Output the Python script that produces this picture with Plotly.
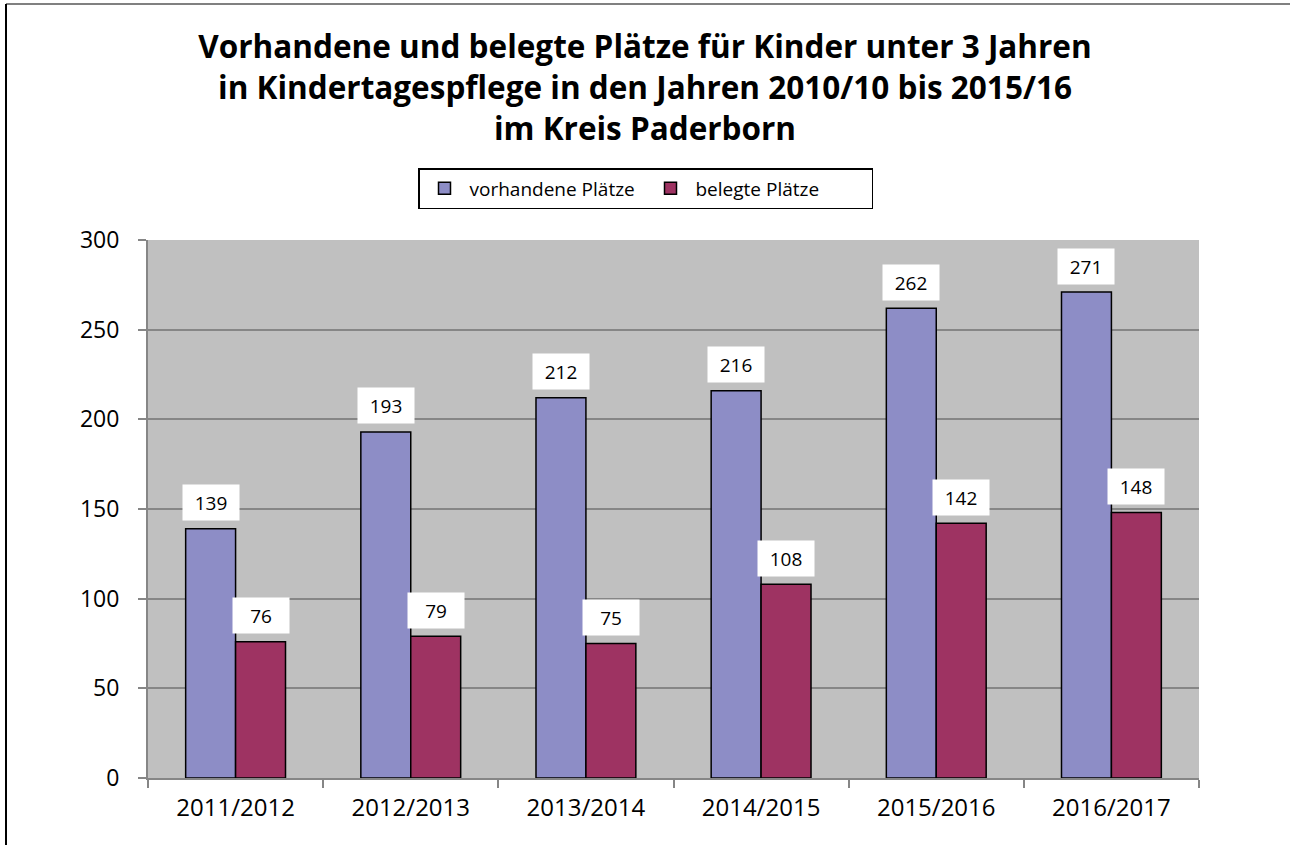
import plotly.graph_objects as go

categories = ["2011/2012", "2012/2013", "2013/2014", "2014/2015", "2015/2016", "2016/2017"]
vorhandene = [139, 193, 212, 216, 262, 271]
belegte = [76, 79, 75, 108, 142, 148]
series_names = ["vorhandene Plätze", "belegte Plätze"]
title_lines = [
    "Vorhandene und belegte Plätze für Kinder unter 3 Jahren",
    "in Kindertagespflege in den Jahren 2010/10 bis 2015/16",
    "im Kreis Paderborn",
]

FONT = "Open Sans"
blue = "#8D8DC6"
red = "#9E3362"

fig = go.Figure()
fig.add_trace(go.Bar(x=categories, y=vorhandene, name=series_names[0],
                     marker=dict(color=blue, line=dict(color="black", width=1.5))))
fig.add_trace(go.Bar(x=categories, y=belegte, name=series_names[1],
                     marker=dict(color=red, line=dict(color="black", width=1.5))))

annotations = []
for vals, shift in ((vorhandene, -25), (belegte, 25)):
    for c, v in zip(categories, vals):
        annotations.append(dict(
            x=c, y=v, xref="x", yref="y", text=str(v), showarrow=False,
            xshift=shift, yshift=26, width=54, height=33, bgcolor="white",
            font=dict(family=FONT, size=19, color="black"),
        ))

fig.update_layout(
    width=1290, height=845,
    margin=dict(l=148, r=91, t=240, b=67),
    paper_bgcolor="white",
    plot_bgcolor="#C0C0C0",
    barmode="group", bargap=0.43, bargroupgap=0,
    title=dict(
        text="<br>".join(title_lines),
        x=0.5, xref="container", xanchor="center",
        y=1 - 58 / 845, yref="container", yanchor="top",
        font=dict(family=FONT, size=31.5, color="black", weight="bold"),
    ),
    legend=dict(
        orientation="h", x=(418 - 148) / 1051, xanchor="left",
        y=(778 - 168) / 538, yanchor="top",
        bordercolor="black", borderwidth=1.5, bgcolor="white",
        font=dict(family=FONT, size=19, color="black"),
        entrywidth=171, itemwidth=40,
    ),
    annotations=annotations,
    font=dict(family=FONT, color="black"),
)
fig.update_yaxes(
    range=[0, 300], dtick=50, showgrid=True, gridcolor="#868686", gridwidth=2,
    showline=True, linecolor="#868686", linewidth=2,
    ticks="outside", ticklen=8, tickcolor="#868686", tickwidth=2,
    ticklabelstandoff=14,
    tickfont=dict(family=FONT, size=23, color="black"), zeroline=False,
)
fig.update_xaxes(
    showline=True, linecolor="#868686", linewidth=2,
    ticks="outside", tickson="boundaries", ticklen=8, tickcolor="#868686", tickwidth=2,
    ticklabelstandoff=7,
    tickfont=dict(family=FONT, size=24, color="black"),
)

# outer chart border (left and top edges visible)
fig.add_shape(type="line", xref="paper", yref="paper",
              x0=(6 - 148) / 1051, x1=(1290 - 148) / 1051,
              y0=(778 - 4) / 538, y1=(778 - 4) / 538,
              line=dict(color="#808080", width=2))
fig.add_shape(type="line", xref="paper", yref="paper",
              x0=(6 - 148) / 1051, x1=(6 - 148) / 1051,
              y0=(778 - 4) / 538, y1=(778 - 845) / 538,
              line=dict(color="black", width=2))

fig.write_html("out.html", config={"displayModeBar": False},
               post_script="document.body.style.margin='0';")
